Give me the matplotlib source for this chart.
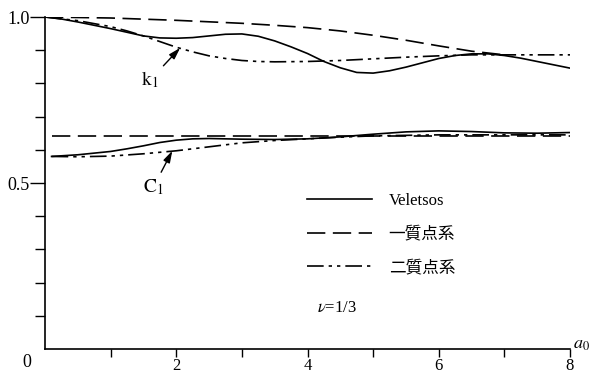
import matplotlib
matplotlib.use('Agg')
import matplotlib.pyplot as plt
from matplotlib.ticker import FixedLocator

plt.rcParams['font.family'] = ['Liberation Serif', 'Noto Sans CJK JP', 'DejaVu Sans']
plt.rcParams['mathtext.fontset'] = 'stix'

# k1, Veletsos (solid)
x_k1_vel = [0, 0.25, 0.5, 0.75, 1.0, 1.25, 1.5, 1.75, 2.0, 2.25, 2.5, 2.75, 3.0, 3.25, 3.5, 3.75,
            4.0, 4.25, 4.5, 4.75, 5.0, 5.25, 5.5, 5.75, 6.0, 6.25, 6.5, 6.75, 7.0, 7.25, 7.5, 7.75, 8.0]
k1_vel = [1.0, 0.994, 0.985, 0.975, 0.965, 0.954, 0.943, 0.937, 0.936, 0.938, 0.943, 0.948, 0.949,
          0.942, 0.928, 0.910, 0.89, 0.866, 0.847, 0.833, 0.831, 0.838, 0.849, 0.862, 0.875, 0.884,
          0.889, 0.889, 0.884, 0.876, 0.866, 0.856, 0.846]
# k1, two-mass (dash-dot)
x_k1_two = [0, 0.5, 1.0, 1.25, 1.5, 1.75, 2.0, 2.25, 2.5, 2.75, 3.0, 3.25, 3.5, 4.0, 4.5, 5.0,
            5.5, 6.0, 6.5, 7.0, 8.0]
k1_two = [1.0, 0.989, 0.971, 0.958, 0.943, 0.926, 0.909, 0.895, 0.883, 0.875, 0.869, 0.866, 0.865,
          0.866, 0.869, 0.874, 0.879, 0.883, 0.886, 0.886, 0.886]
# k1, one-mass (long dash)
x_k1_one = [0, 1.0, 2.0, 3.0, 3.5, 4.0, 4.5, 5.0, 5.5, 6.0, 6.5, 7.0]
k1_one = [1.0, 0.997, 0.99, 0.981, 0.975, 0.968, 0.958, 0.945, 0.93, 0.913, 0.897, 0.886]

# C1, Veletsos (solid)
x_c1_vel = [0.1, 0.5, 1.0, 1.25, 1.5, 1.75, 2.0, 2.25, 2.5, 3.0, 3.5, 4.0, 4.5, 5.0, 5.5, 6.0,
            6.5, 7.0, 7.5, 8.0]
c1_vel = [0.58, 0.585, 0.595, 0.603, 0.612, 0.622, 0.629, 0.633, 0.634, 0.632, 0.631, 0.633,
          0.639, 0.647, 0.654, 0.657, 0.655, 0.651, 0.650, 0.652]
# C1, two-mass (dash-dot)
x_c1_two = [0.1, 0.5, 1.0, 1.5, 2.0, 2.5, 3.0, 3.5, 4.0, 4.5, 5.0, 6.0, 8.0]
c1_two = [0.58, 0.579, 0.581, 0.588, 0.597, 0.609, 0.621, 0.628, 0.633, 0.638, 0.642, 0.645, 0.645]
# C1, one-mass (long dash)
x_c1_one = [0.1, 8.0]
c1_one = [0.642, 0.642]

labels = ['Veletsos', '一質点系', '二質点系']

fig = plt.figure(figsize=(5.89, 3.75), dpi=100)
ax = fig.add_axes([45/589, 1 - 349/375, 525/589, 332/375])

lw = 1.2
dash_one = (11, 4.5)
dash_two = (10, 3, 2, 3, 2, 3)

l1, = ax.plot(x_k1_vel, k1_vel, color='black', lw=lw)
l2, = ax.plot(x_k1_one, k1_one, color='black', lw=lw, dashes=dash_one)
l3, = ax.plot(x_k1_two, k1_two, color='black', lw=lw, dashes=dash_two)
ax.plot(x_c1_vel, c1_vel, color='black', lw=lw)
ax.plot(x_c1_one, c1_one, color='black', lw=lw, dashes=dash_one)
ax.plot(x_c1_two, c1_two, color='black', lw=lw, dashes=dash_two)

ax.set_xlim(0, 8)
ax.set_ylim(0, 1.0)
ax.spines['top'].set_visible(False)
ax.spines['right'].set_visible(False)
for s in ['left', 'bottom']:
    ax.spines[s].set_linewidth(1.2)

ax.xaxis.set_major_locator(FixedLocator([2, 4, 6, 8]))
ax.xaxis.set_minor_locator(FixedLocator([1, 3, 5, 7]))
ax.yaxis.set_major_locator(FixedLocator([0.5, 1.0]))
ax.yaxis.set_minor_locator(FixedLocator([0.1, 0.2, 0.3, 0.4, 0.6, 0.7, 0.8, 0.9]))
ax.set_xticklabels(['2', '4', '6', '8'])
ax.set_yticklabels(['0.5', '1.0'])
ax.tick_params(axis='x', which='both', direction='out', length=6, width=1, pad=0.5, labelsize=12)
ax.tick_params(axis='y', which='major', direction='out', length=11, width=1, pad=0, labelsize=13)
ax.tick_params(axis='y', which='minor', direction='out', length=7, width=1)

ax.text(-0.034, -0.04, '0', transform=ax.transAxes, ha='center', va='center', fontsize=13)
ax.text(1.005, 0.015, r'$a_0$', transform=ax.transAxes, ha='left', va='center', fontsize=13)

arrow = dict(arrowstyle='-|>,head_length=0.5,head_width=0.15', color='black', lw=1,
             shrinkA=2, shrinkB=0)
ax.annotate(r'$\mathrm{k}_1$', xy=(2.06, 0.907), xytext=(1.6, 0.81), fontsize=14,
            ha='center', va='center', arrowprops=arrow)
ax.annotate(r'$\mathrm{C}_1$', xy=(1.94, 0.597), xytext=(1.65, 0.487), fontsize=14,
            ha='center', va='center', arrowprops=arrow)

fig.legend([l1, l2, l3], labels, loc='upper left', bbox_to_anchor=(307/589, 1 - 193/375),
           frameon=False, fontsize=12, handlelength=3.9, handletextpad=1.0,
           labelspacing=1.05, borderpad=0, borderaxespad=0)

fig.text(317/589, 1 - 308/375, r'$\nu$=1/3', fontsize=12, va='center')

fig.savefig('out.png', dpi=100)
